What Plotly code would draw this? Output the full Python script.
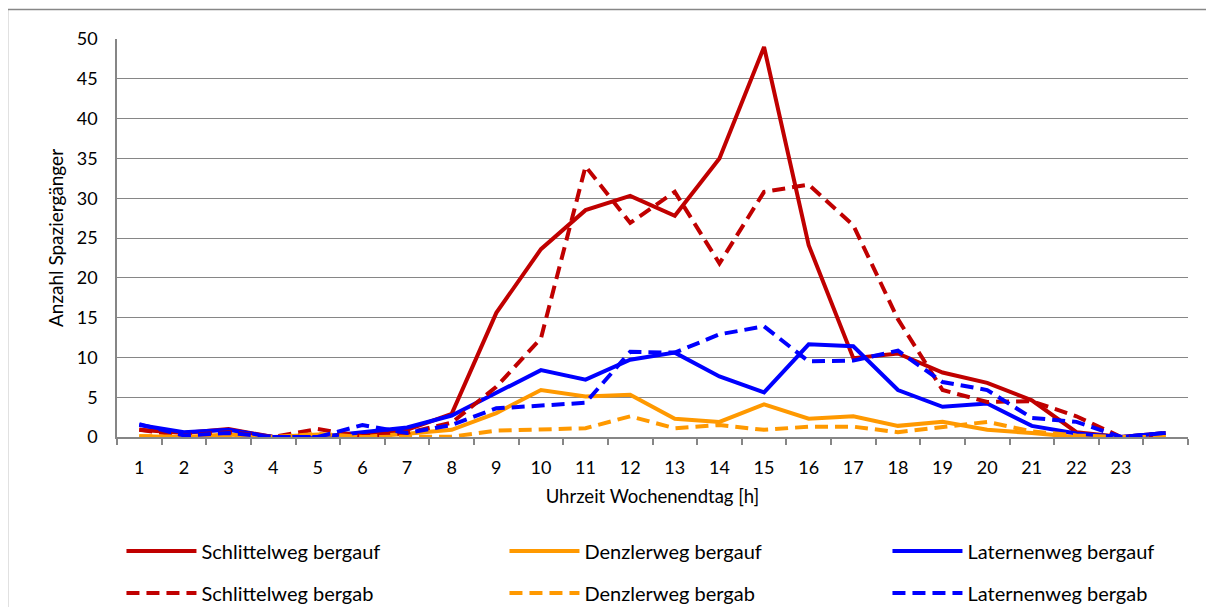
import plotly.graph_objects as go

# ---- data ----
hours = list(range(1, 25))
tick_hours = list(range(1, 24))
tick_labels = [str(h) for h in tick_hours]

schlittel_auf = [0.9, 0.5, 1.0, 0, 0, 0.2, 0.9, 2.9, 15.6, 23.6, 28.5, 30.3, 27.8, 35.0, 49.0, 24.1, 9.9, 10.5, 8.1, 6.8, 4.6, 0.6, 0, 0.5]
denzler_auf = [0.1, 0, 0.3, 0, 0.3, 0, 0.4, 0.9, 3.0, 5.9, 5.1, 5.3, 2.3, 1.9, 4.1, 2.3, 2.6, 1.4, 1.9, 0.9, 0.5, 0, 0, 0]
laternen_auf = [1.5, 0.6, 0.9, 0, 0, 0.6, 1.2, 2.7, 5.5, 8.4, 7.2, 9.7, 10.6, 7.6, 5.6, 11.65, 11.4, 5.9, 3.8, 4.2, 1.4, 0.45, 0, 0.5]
schlittel_ab = [0.9, 0.2, 0.6, 0, 1.0, 0.1, 0.5, 1.8, 6.3, 12.4, 34.0, 26.9, 30.8, 21.8, 30.8, 31.7, 26.6, 14.8, 5.9, 4.4, 4.5, 2.6, 0, 0.3]
denzler_ab = [0.1, 0, 0, 0, 0.4, 0, 0, 0.05, 0.8, 0.9, 1.1, 2.6, 1.1, 1.5, 0.9, 1.3, 1.3, 0.6, 1.3, 1.9, 0.7, 0.2, 0, 0]
laternen_ab = [1.6, 0.2, 0.5, 0, 0, 1.5, 0.5, 1.5, 3.6, 3.9, 4.3, 10.7, 10.6, 12.9, 13.9, 9.5, 9.6, 10.85, 6.9, 5.9, 2.4, 1.9, 0, 0.5]

names = ["Schlittelweg bergauf", "Denzlerweg bergauf", "Laternenweg bergauf",
         "Schlittelweg bergab", "Denzlerweg bergab", "Laternenweg bergab"]
values = [schlittel_auf, denzler_auf, laternen_auf, schlittel_ab, denzler_ab, laternen_ab]
colors = ["#C00000", "#FF9900", "#0000FF", "#C00000", "#FF9900", "#0000FF"]
dashes = ["solid", "solid", "solid", "13px,7px", "13px,7px", "13px,7px"]
legends = ["legend", "legend", "legend", "legend2", "legend2", "legend2"]

FONT = "Lato, Carlito, Calibri, sans-serif"
GRID = "#868686"

fig = go.Figure()
for n, v, c, d, lg in zip(names, values, colors, dashes, legends):
    fig.add_trace(go.Scatter(x=hours, y=v, name=n, mode="lines",
                             line=dict(color=c, width=4, dash=d),
                             legend=lg))

# page body adds an 8px offset; work in figure coordinates = screen - 8
OFF = 8
W, H = 1214 - OFF, 607 - OFF
L, R, T, B = 117 - OFF, 26, 39 - OFF, 170
pw, ph = W - L - R, H - T - B

def px_x(x):
    return (x - OFF - L) / pw

def px_y(y):
    return (H - B - (y - OFF)) / ph

legend_common = dict(orientation="h", xanchor="left", yanchor="middle",
                     entrywidth=298, entrywidthmode="pixels", itemwidth=70,
                     borderwidth=5, bordercolor="rgba(0,0,0,0)",
                     font=dict(family=FONT, size=20, color="#000000"),
                     bgcolor="rgba(0,0,0,0)", traceorder="normal")

fig.update_layout(
    width=W, height=H,
    margin=dict(l=L, r=R, t=T, b=B, autoexpand=False),
    paper_bgcolor="white", plot_bgcolor="white",
    font=dict(family=FONT, size=18, color="#000000"),
    showlegend=True,
    legend=dict(x=-0.0005, y=px_y(551), **legend_common),
    legend2=dict(x=-0.0005, y=px_y(593), **legend_common),
    xaxis=dict(range=[0.5, 24.5], tickmode="array", tickvals=tick_hours, ticktext=tick_labels,
               ticks="", showgrid=False, zeroline=False,
               showline=True, linecolor=GRID, linewidth=1.5,
               ticklabelstandoff=14,
               tickfont=dict(family=FONT, size=18),
               minor=dict(tickmode="array", tickvals=[h - 0.5 for h in hours] + [24.5],
                          ticks="outside", ticklen=6, tickcolor=GRID, tickwidth=1.5, showgrid=False),
               title=dict(text="Uhrzeit Wochenendtag [h]", font=dict(family=FONT, size=18.5), standoff=13),
               automargin=False),
    yaxis=dict(range=[0, 50], tickmode="linear", tick0=0, dtick=5,
               showgrid=True, gridcolor=GRID, gridwidth=1, zeroline=False,
               showline=True, linecolor=GRID, linewidth=1.5, ticks="",
               ticklabelstandoff=14,
               tickfont=dict(family=FONT, size=18),
               title=dict(text="Anzahl Spaziergänger", font=dict(family=FONT, size=19), standoff=8),
               automargin=False),
    shapes=[dict(type="rect", xref="paper", yref="paper",
                 x0=px_x(7.5), x1=px_x(1240), y0=px_y(9.5), y1=px_y(650),
                 line=dict(color="#878787", width=1.5), fillcolor="rgba(0,0,0,0)", layer="below")],
)

fig.write_html("out.html")
